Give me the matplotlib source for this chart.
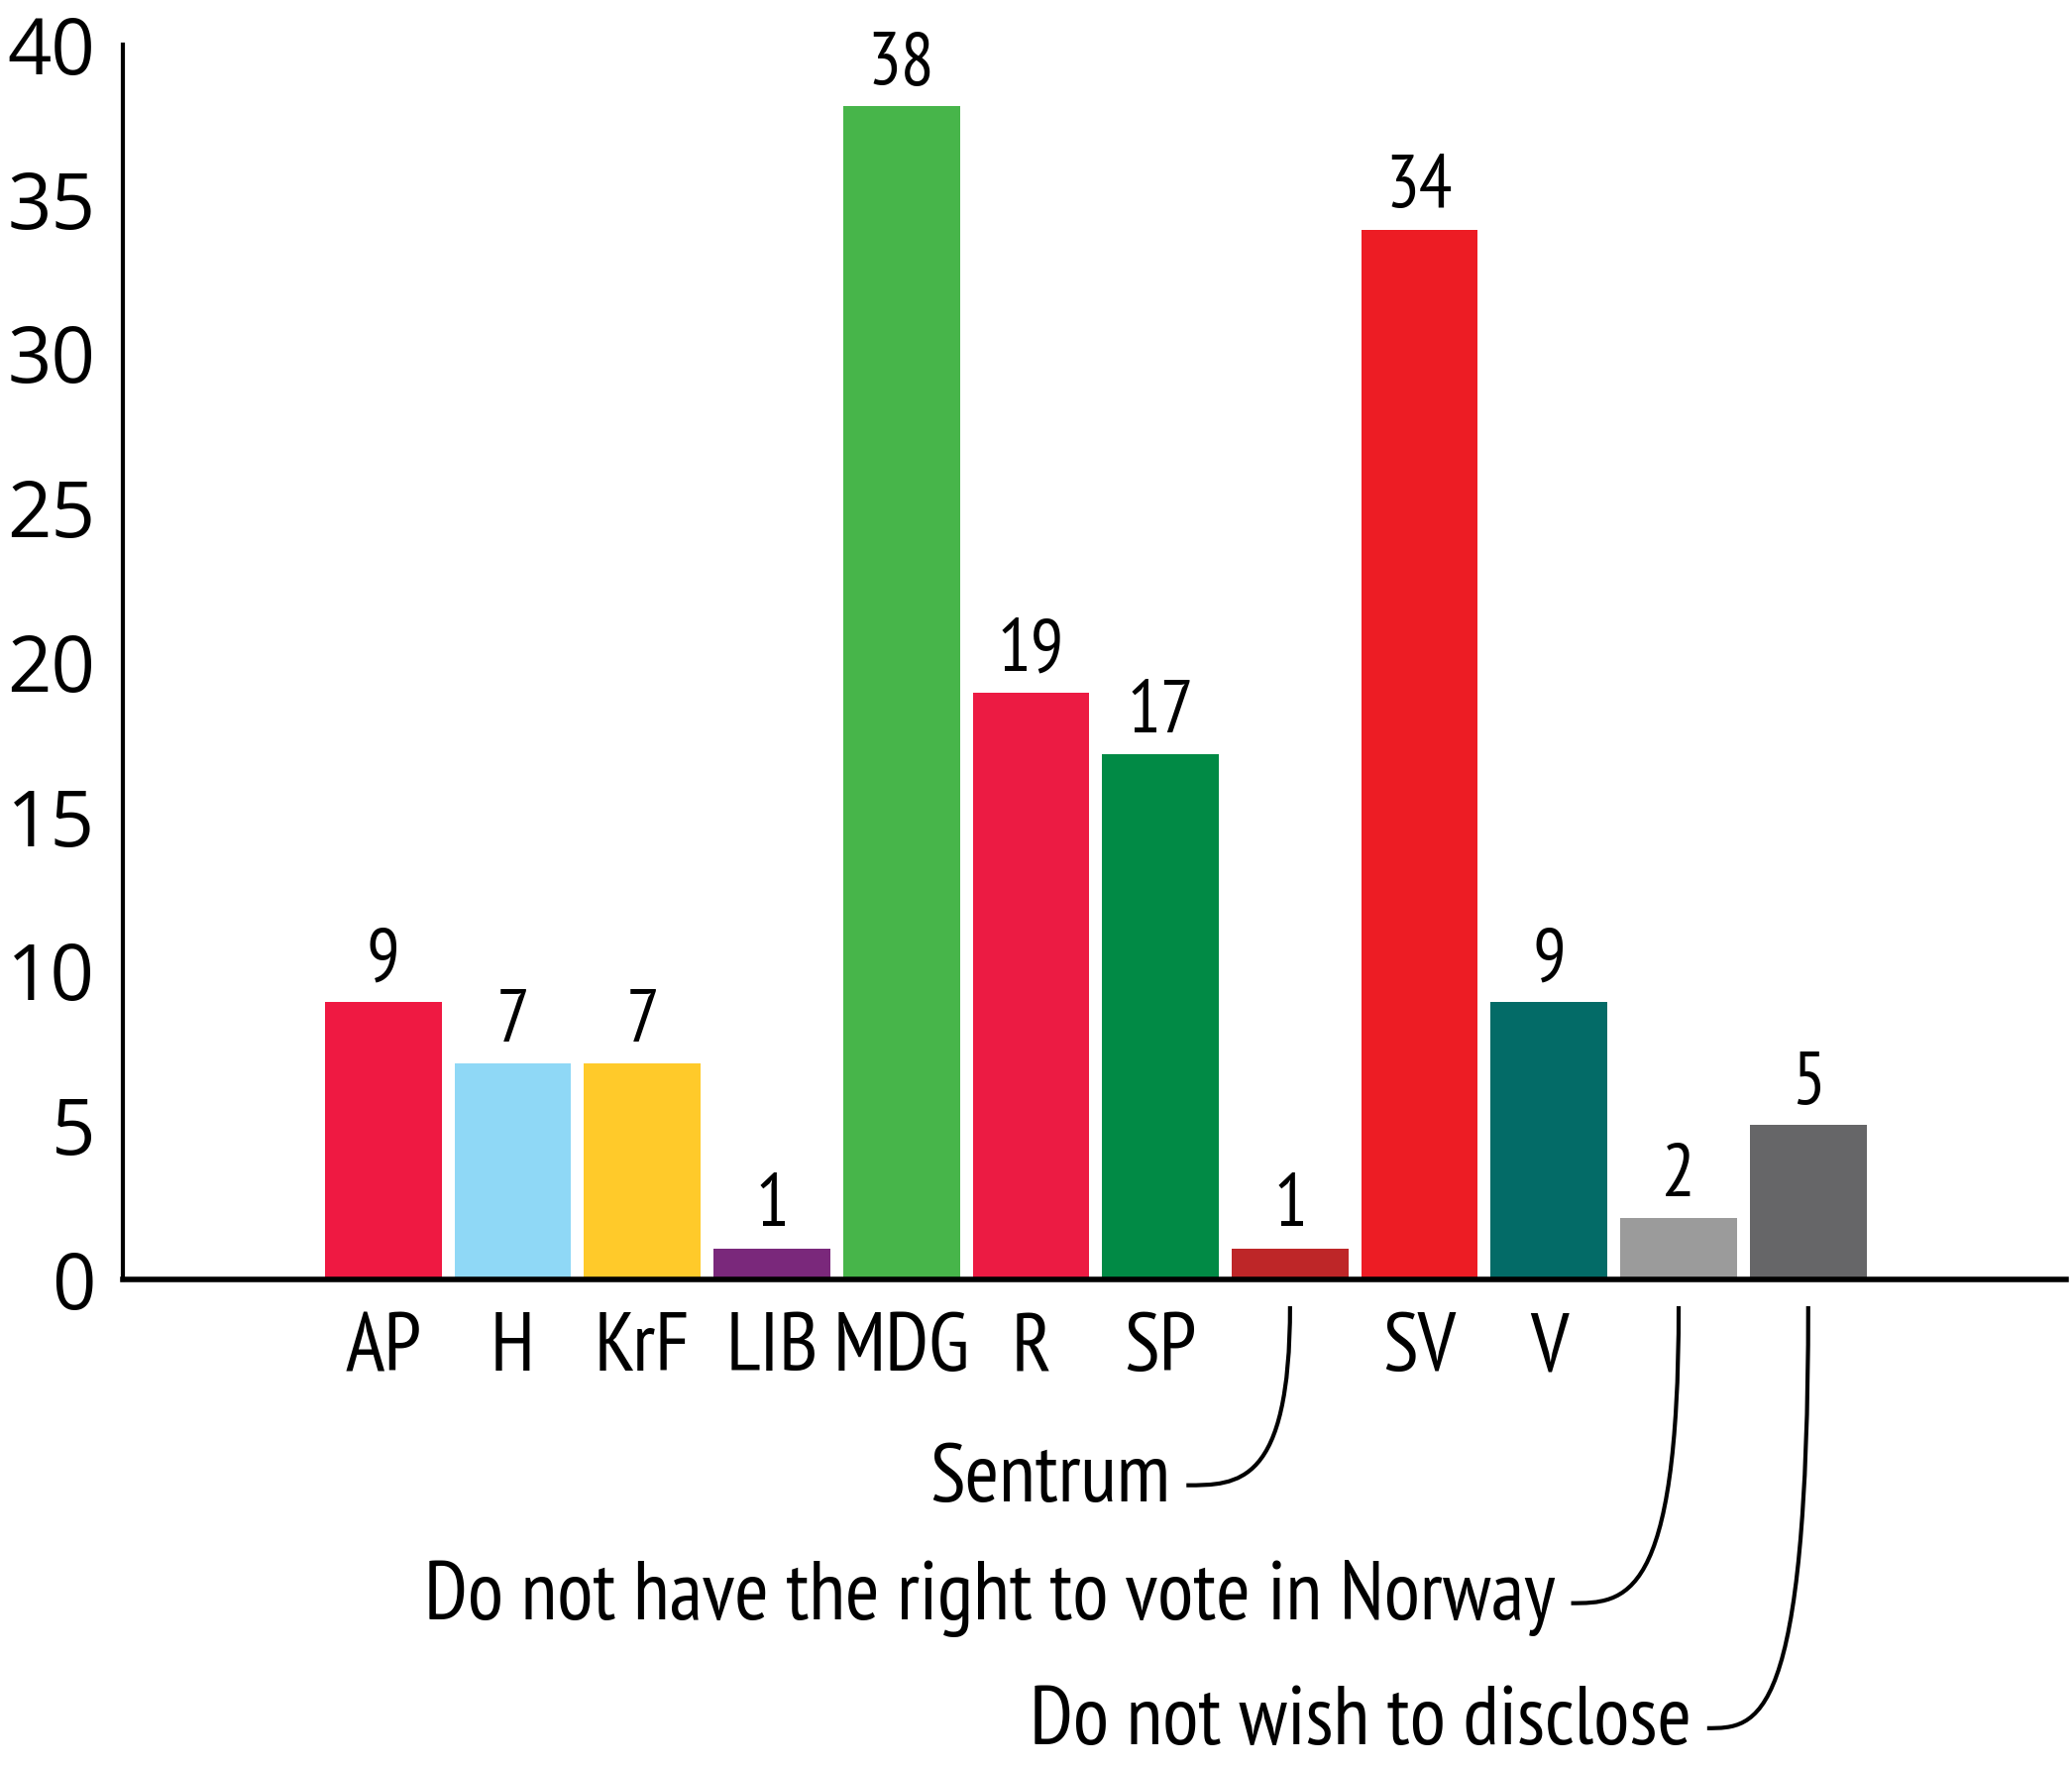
import matplotlib
matplotlib.use("Agg")
import matplotlib.pyplot as plt
from matplotlib.path import Path
from matplotlib.patches import PathPatch

# data
categories = ["AP", "H", "KrF", "LIB", "MDG", "R", "SP", "Sentrum", "SV", "V",
              "Do not have the right to vote in Norway", "Do not wish to disclose"]
values = [9, 7, 7, 1, 38, 19, 17, 1, 34, 9, 2, 5]
bar_colors = ["#EF1942", "#8FD8F6", "#FFCA2A", "#7A287B", "#47B54A", "#EC1B43",
              "#018A45", "#BE2628", "#ED1C24", "#036B67", "#9B9B9B", "#666668"]
# categories whose name is put below with a curved leader line
callouts = ["Sentrum", "Do not have the right to vote in Norway", "Do not wish to disclose"]
y_ticks = [0, 5, 10, 15, 20, 25, 30, 35, 40]

NARROW = ["PT Sans Narrow", "Roboto Condensed", "Liberation Sans Narrow", "DejaVu Sans"]
TICKFONT = ["Open Sans", "DejaVu Sans"]

fig = plt.figure(figsize=(20.91, 17.86), dpi=100)
ax = fig.add_axes([0.0593, 0.2772, 0.9378, 0.6976])

x = list(range(len(categories)))
ax.bar(x, values, width=0.9, color=bar_colors, linewidth=0)

ax.set_xlim(-2.01, 12.99)
ax.set_ylim(0, 40)

for spine in ["top", "right"]:
    ax.spines[spine].set_visible(False)
ax.spines["left"].set_linewidth(3)
ax.spines["bottom"].set_linewidth(4)

ax.set_yticks(y_ticks)
ax.set_yticklabels([str(t) for t in y_ticks], family=TICKFONT, fontsize=56)
ax.tick_params(axis="y", length=0, pad=20)

tick_labels = ["" if c in callouts else c for c in categories]
ax.set_xticks(x)
ax.set_xticklabels(tick_labels, family=NARROW, fontsize=60)
ax.tick_params(axis="x", length=0, pad=24)

# value labels
for xi, v in zip(x, values):
    ax.annotate(str(v), (xi, v), xytext=(0, 5), textcoords="offset points",
                ha="center", va="bottom", family=NARROW, fontsize=54)

# callout labels (layout: text right edge x, baseline y in data units)
callout_pos = [(6.08, -7.19), (9.05, -11.01), (10.10, -15.06)]
for name, (tx, ty) in zip(callouts, callout_pos):
    idx = categories.index(name)
    ax.text(tx, ty, name, ha="right", va="baseline", family=NARROW,
            fontsize=60, clip_on=False)
    x0, y0 = idx, -0.87
    x1, y1 = tx + 0.12, ty + 0.52
    dx = x0 - x1
    verts = [(x0, y0), (x0, y1), (x1 + 0.5 * dx, y1), (x1, y1)]
    codes = [Path.MOVETO, Path.CURVE4, Path.CURVE4, Path.CURVE4]
    ax.add_patch(PathPatch(Path(verts, codes), facecolor="none",
                           edgecolor="black", linewidth=3, clip_on=False))

fig.savefig("out.png", dpi=100, facecolor="white")
